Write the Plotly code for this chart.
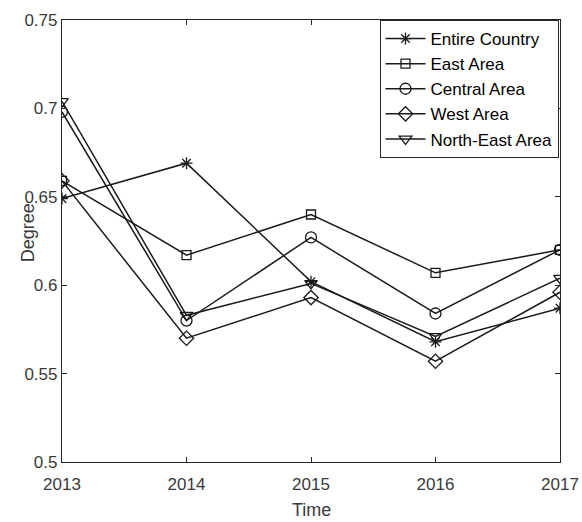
import plotly.graph_objects as go

years = [2013, 2014, 2015, 2016, 2017]
entire_country = [0.649, 0.669, 0.602, 0.568, 0.587]
east_area = [0.659, 0.617, 0.640, 0.607, 0.620]
central_area = [0.698, 0.580, 0.627, 0.584, 0.620]
west_area = [0.659, 0.570, 0.593, 0.557, 0.596]
north_east_area = [0.704, 0.583, 0.601, 0.571, 0.604]

series_names = ["Entire Country", "East Area", "Central Area", "West Area", "North-East Area"]
series_values = [entire_country, east_area, central_area, west_area, north_east_area]
symbols = ["asterisk-open", "square-open", "circle-open", "diamond-open", "triangle-down-open"]
sizes = [10, 9, 11, 11, 11]

y_ticks = [0.5, 0.55, 0.6, 0.65, 0.7, 0.75]
y_tick_text = ["0.5", "0.55", "0.6", "0.65", "0.7", "0.75"]

ink = "#262626"
label_ink = "#3a3a3a"
font_family = "Liberation Sans, Arial, sans-serif"

fig = go.Figure()
for name, vals, sym, sz in zip(series_names, series_values, symbols, sizes):
    fig.add_trace(go.Scatter(
        x=years, y=vals, name=name, mode="lines+markers",
        line=dict(color="#1a1a1a", width=1.5),
        marker=dict(symbol=sym, size=sz, color="#1a1a1a",
                    line=dict(color="#1a1a1a", width=1.3)),
    ))

axis_common = dict(
    showline=True, linecolor=ink, linewidth=1.2, mirror="ticks",
    ticks="inside", ticklen=5, tickcolor=ink, showgrid=False, zeroline=False,
    automargin=False,
    tickfont=dict(family=font_family, size=17, color=label_ink),
)

fig.update_xaxes(range=[2013, 2017], tickvals=years, ticktext=[str(y) for y in years],
                 ticklabelstandoff=6, **axis_common)
fig.update_yaxes(range=[0.5, 0.75], tickvals=y_ticks, ticktext=y_tick_text,
                 **axis_common)

fig.add_annotation(text="Degree", xref="paper", yref="paper", x=-0.068, y=0.518,
                   textangle=-90, showarrow=False, xanchor="center", yanchor="middle",
                   font=dict(family=font_family, size=18, color=label_ink))
fig.add_annotation(text="Time", xref="paper", yref="paper", x=0.5, y=-0.108,
                   showarrow=False, xanchor="center", yanchor="middle",
                   font=dict(family=font_family, size=18, color=label_ink))

fig.update_layout(
    width=582, height=522,
    margin=dict(l=62, r=22, t=20, b=60),
    paper_bgcolor="white", plot_bgcolor="white",
    showlegend=True,
    legend=dict(x=0.997, xanchor="right", y=1.0, yanchor="top",
                bordercolor=ink, borderwidth=1, bgcolor="white",
                font=dict(family=font_family, size=17, color="#000000"),
                tracegroupgap=0, itemwidth=40),
)

fig.write_html("out.html")
